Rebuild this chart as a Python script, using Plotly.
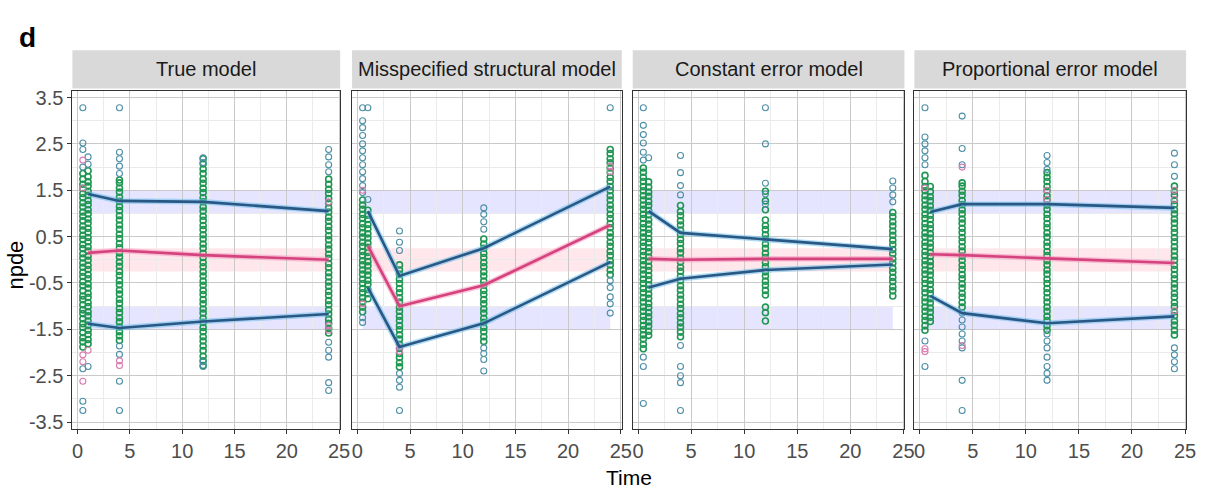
import plotly.graph_objects as go

# ---------------- data ----------------
panel_titles = ["True model", "Misspecified structural model",
                "Constant error model", "Proportional error model"]
obs_times = [0.5, 1, 4, 12, 24]
line_times = [1, 4, 12, 24]
x_ticks = [0, 5, 10, 15, 20, 25]
y_ticks = [-3.5, -2.5, -1.5, -0.5, 0.5, 1.5, 2.5, 3.5]
y_tick_labels = ["-3.5", "-2.5", "-1.5", "-0.5", "0.5", "1.5", "2.5", "3.5"]

# percentile lines (5th, median, 95th)
p1_up = [1.42, 1.27, 1.25, 1.05]
p1_med = [0.15, 0.20, 0.10, 0.00]
p1_lo = [-1.38, -1.47, -1.33, -1.17]
p2_up = [1.05, -0.35, 0.25, 1.58]
p2_med = [0.30, -1.00, -0.55, 0.75]
p2_lo = [-0.60, -1.88, -1.37, -0.05]
p3_up = [1.05, 0.58, 0.44, 0.23]
p3_med = [0.02, 0.00, 0.02, 0.02]
p3_lo = [-0.60, -0.41, -0.22, -0.10]
p4_up = [1.03, 1.20, 1.20, 1.12]
p4_med = [0.12, 0.10, 0.03, -0.07]
p4_lo = [-0.78, -1.15, -1.37, -1.22]

# prediction-interval bands (lower, upper)
band_upper = [1.0, 1.5]
band_median = [-0.25, 0.25]
band_lower = [-1.5, -1.0]
band_x = [0.5, 24.0]

# observations: green (main), teal, pink
p1_g05 = [-1.88,-1.77,-1.68,-1.57,-1.46,-1.38,-1.27,-1.16,-1.08,-0.97,-0.86,-0.78,-0.67,-0.56,-0.47,-0.36,-0.27,-0.16,-0.07,0.04,0.13,0.24,0.33,0.44,0.53,0.64,0.73,0.84,0.94,1.03,1.14,1.23,1.34,1.43,1.54,1.63,1.74,1.86]
p1_g1 = [-1.81,-1.72,-1.61,-1.52,-1.41,-1.32,-1.21,-1.12,-1.01,-0.92,-0.81,-0.72,-0.61,-0.52,-0.41,-0.32,-0.21,-0.12,-0.01,0.08,0.19,0.28,0.39,0.48,0.59,0.68,0.79,0.88,0.99,1.08,1.19,1.28,1.39,1.48,1.59,1.68,1.79,1.92]
p1_g4 = [-1.74,-1.64,-1.55,-1.45,-1.34,-1.25,-1.14,-1.05,-0.94,-0.85,-0.74,-0.65,-0.54,-0.45,-0.34,-0.25,-0.14,-0.05,0.06,0.15,0.26,0.35,0.46,0.55,0.66,0.75,0.86,0.95,1.06,1.15,1.26,1.35,1.46,1.55,1.66,1.72]
p1_g12 = [-2.28,-2.18,-2.08,-1.96,-1.86,-1.75,-1.66,-1.55,-1.46,-1.35,-1.26,-1.15,-1.06,-0.95,-0.86,-0.75,-0.66,-0.55,-0.46,-0.35,-0.26,-0.15,-0.06,0.05,0.14,0.25,0.34,0.45,0.54,0.65,0.74,0.85,0.94,1.05,1.14,1.25,1.34,1.45,1.54,1.65,1.74,1.86,1.96,2.07,2.18]
p1_g24 = [-1.58,-1.48,-1.37,-1.28,-1.17,-1.08,-0.97,-0.88,-0.77,-0.68,-0.57,-0.48,-0.37,-0.28,-0.17,-0.08,0.03,0.12,0.23,0.32,0.43,0.52,0.63,0.72,0.83,0.92,1.03,1.12,1.23,1.32,1.43,1.52,1.63,1.74]
p1_b05 = [3.28, 2.52, 2.38, 2.0, -2.35, -3.05, -3.25]
p1_b1 = [2.22, 2.06, -2.3]
p1_b4 = [3.28, 2.32, 2.18, 2.02, 1.86, -1.86, -2.04, -2.62, -3.25]
p1_b12 = [2.2, 2.1, -2.2, -2.3]
p1_b24 = [2.38, 2.22, 2.05, 1.9, -1.78, -1.95, -2.1, -2.65, -2.82]
p1_r05 = [2.15, 1.55, -2.2, -2.62, -2.05]
p1_r1 = [-1.95]
p1_r4 = [-2.18, -2.28]
p1_r12 = []
p1_r24 = [-1.42, -1.52, 1.25]

p2_g05 = [-1.12,-1.02,-0.91,-0.82,-0.71,-0.62,-0.51,-0.42,-0.31,-0.22,-0.11,-0.02,0.09,0.18,0.29,0.38,0.49,0.58,0.69,0.78,0.89,0.98,1.09,1.18,1.29]
p2_g1 = [-0.84,-0.73,-0.64,-0.53,-0.44,-0.33,-0.24,-0.13,-0.04,0.07,0.16,0.27,0.36,0.47,0.56,0.67,0.76,0.87,0.96,1.07]
p2_g4 = [-2.31,-2.22,-2.11,-2.02,-1.91,-1.82,-1.71,-1.62,-1.51,-1.42,-1.31,-1.22,-1.11,-1.02,-0.91,-0.82,-0.71,-0.62,-0.51,-0.42,-0.31,-0.22,-0.11]
p2_g12 = [-1.76,-1.66,-1.55,-1.46,-1.35,-1.26,-1.15,-1.06,-0.95,-0.86,-0.75,-0.66,-0.55,-0.46,-0.35,-0.26,-0.15,-0.06,0.05,0.14,0.25,0.34,0.45]
p2_g24 = [-0.32,-0.22,-0.11,-0.02,0.09,0.18,0.29,0.38,0.49,0.58,0.69,0.78,0.89,0.98,1.09,1.18,1.29,1.38,1.49,1.58,1.69,1.78,1.89,1.98,2.09,2.18,2.29,2.38]
p2_b05 = [3.28, 3.0, 2.85, 2.68, 2.5, 2.35, 2.2, 2.05, 1.9, 1.75, 1.6, 1.45, -1.25, -1.35]
p2_b1 = [3.28, 1.3]
p2_b4 = [0.62, 0.38, 0.2, -2.45, -2.6, -2.75, -3.25]
p2_b12 = [1.12, 0.98, 0.82, 0.66, -1.9, -2.02, -2.15, -2.4]
p2_b24 = [3.28, -0.45, -0.6, -0.8, -0.95, -1.15]
p2_r05 = [1.5, -0.95]
p2_r1 = []
p2_r4 = [-1.88, -1.98]
p2_r12 = []
p2_r24 = [1.9, 2.02]

p3_g05 = [-1.92,-1.82,-1.71,-1.62,-1.51,-1.42,-1.31,-1.22,-1.11,-1.02,-0.91,-0.82,-0.71,-0.62,-0.51,-0.42,-0.31,-0.22,-0.11,-0.02,0.09,0.18,0.29,0.38,0.49,0.58,0.69,0.78,0.89,0.98,1.09,1.18,1.29,1.38,1.49,1.58,1.69,1.78,1.89,1.98]
p3_g1 = [-1.63,-1.54,-1.43,-1.34,-1.23,-1.14,-1.03,-0.94,-0.83,-0.74,-0.63,-0.54,-0.43,-0.34,-0.23,-0.14,-0.03,0.06,0.17,0.26,0.37,0.46,0.57,0.66,0.77,0.86,0.97,1.06,1.17,1.26,1.37,1.46,1.57,1.68]
p3_g4 = [-1.66,-1.56,-1.45,-1.36,-1.25,-1.16,-1.05,-0.96,-0.85,-0.76,-0.65,-0.56,-0.45,-0.36,-0.25,-0.16,-0.05,0.04,0.15,0.24,0.35,0.44,0.55,0.64,0.75,0.84,0.95,1.04,1.17]
p3_g12 = [-1.32,-1.14,-1.02,-0.76,-0.66,-0.55,-0.46,-0.35,-0.26,-0.15,-0.06,0.05,0.14,0.25,0.34,0.45,0.54,0.65,0.74,0.86,1.08,1.27,1.48]
p3_g24 = [-0.78,-0.67,-0.58,-0.47,-0.38,-0.27,-0.18,-0.07,0.02,0.13,0.22,0.33,0.42,0.53,0.62,0.73,0.82,0.93,1.02]
p3_b05 = [3.28, 2.9, 2.7, 2.52, 2.32, 2.15, -2.1, -2.3, -3.1]
p3_b1 = [2.2]
p3_b4 = [2.25, 1.88, 1.6, 1.4, -1.85, -2.3, -2.5, -2.65, -3.25]
p3_b12 = [3.28, 2.5, 1.65, 1.42, 1.2]
p3_b24 = [1.7, 1.55, 1.4, 1.25]
p3_r05 = []
p3_r1 = []
p3_r4 = []
p3_r12 = []
p3_r24 = []

p4_g05 = [-1.52,-1.42,-1.31,-1.22,-1.11,-1.02,-0.91,-0.82,-0.71,-0.62,-0.51,-0.42,-0.31,-0.22,-0.11,-0.02,0.09,0.18,0.29,0.38,0.49,0.58,0.69,0.78,0.89,0.98,1.09,1.18,1.29,1.38,1.49,1.58,1.69,1.82]
p4_g1 = [-1.33,-1.24,-1.13,-1.04,-0.93,-0.84,-0.73,-0.64,-0.53,-0.44,-0.33,-0.24,-0.13,-0.04,0.07,0.16,0.27,0.36,0.47,0.56,0.67,0.76,0.87,0.96,1.07,1.16,1.27,1.36,1.47,1.58]
p4_g4 = [-1.02,-0.92,-0.81,-0.72,-0.61,-0.52,-0.41,-0.32,-0.21,-0.12,-0.01,0.08,0.19,0.28,0.39,0.48,0.59,0.68,0.79,0.88,0.99,1.08,1.19,1.28,1.39,1.48,1.59,1.66]
p4_g12 = [-1.52,-1.42,-1.31,-1.22,-1.11,-1.02,-0.91,-0.82,-0.71,-0.62,-0.51,-0.42,-0.31,-0.22,-0.11,-0.02,0.09,0.18,0.29,0.38,0.49,0.58,0.69,0.78,0.89,0.98,1.09,1.18,1.29,1.38,1.49,1.58,1.69,1.78,1.88]
p4_g24 = [-1.62,-1.52,-1.41,-1.32,-1.21,-1.12,-1.01,-0.92,-0.81,-0.72,-0.61,-0.52,-0.41,-0.32,-0.21,-0.12,-0.01,0.08,0.19,0.28,0.39,0.48,0.59,0.68,0.79,0.88,0.99,1.08,1.19,1.28,1.39,1.48,1.59]
p4_b05 = [3.28, 2.65, 2.5, 2.35, 2.2, 2.05, -2.3, -1.75]
p4_b1 = []
p4_b4 = [3.1, 2.4, 2.05, -1.15, -1.3, -1.45, -1.6, -1.75, -1.9, -2.6, -3.25]
p4_b12 = [2.25, 2.1, 1.95, -1.6, -1.75, -1.9, -2.1, -2.3, -2.45, -2.6]
p4_b24 = [2.3, 2.05, 1.8, -1.9, -2.05, -2.2, -2.35]
p4_r05 = [-1.92, -1.98, 1.55]
p4_r1 = []
p4_r4 = [2.0, -1.85]
p4_r12 = [1.5, 1.3]
p4_r24 = [1.5, 1.3, -1.1]

# ---------------- assemble ----------------
panels = [
    dict(g=[p1_g05, p1_g1, p1_g4, p1_g12, p1_g24], b=[p1_b05, p1_b1, p1_b4, p1_b12, p1_b24],
         r=[p1_r05, p1_r1, p1_r4, p1_r12, p1_r24], up=p1_up, med=p1_med, lo=p1_lo),
    dict(g=[p2_g05, p2_g1, p2_g4, p2_g12, p2_g24], b=[p2_b05, p2_b1, p2_b4, p2_b12, p2_b24],
         r=[p2_r05, p2_r1, p2_r4, p2_r12, p2_r24], up=p2_up, med=p2_med, lo=p2_lo),
    dict(g=[p3_g05, p3_g1, p3_g4, p3_g12, p3_g24], b=[p3_b05, p3_b1, p3_b4, p3_b12, p3_b24],
         r=[p3_r05, p3_r1, p3_r4, p3_r12, p3_r24], up=p3_up, med=p3_med, lo=p3_lo),
    dict(g=[p4_g05, p4_g1, p4_g4, p4_g12, p4_g24], b=[p4_b05, p4_b1, p4_b4, p4_b12, p4_b24],
         r=[p4_r05, p4_r1, p4_r4, p4_r12, p4_r24], up=p4_up, med=p4_med, lo=p4_lo),
]

W, H = 1209, 495
px_domains = [(73, 343), (355, 627), (638, 912), (922, 1196)]
y_dom = [(H - 432) / H, (H - 88) / H]
strip_y = [(H - 86) / H, (H - 47) / H]

GREEN = "#1f9652"
TEAL = "#4f90a6"
PINK = "#d97bb0"
BLUE_LINE = "#2a5884"
PINK_LINE = "#d4437e"
FONT = "Liberation Sans, Arial, sans-serif"

fig = go.Figure()
shapes = []
annotations = []

def expand(times, lists):
    xs, ys = [], []
    for t, vals in zip(times, lists):
        xs += [t] * len(vals)
        ys += list(vals)
    return xs, ys

for i, p in enumerate(panels):
    sfx = "" if i == 0 else str(i + 1)
    xa, ya = "x" + sfx, "y" + sfx
    for lists, col, lw in ((p["g"], GREEN, 1.6), (p["b"], TEAL, 1.1), (p["r"], PINK, 1.1)):
        xs, ys = expand(obs_times, lists)
        fig.add_trace(go.Scatter(x=xs, y=ys, mode="markers", xaxis=xa, yaxis=ya,
                                 marker=dict(symbol="circle-open", size=6, color=col,
                                             line=dict(width=lw, color=col)),
                                 showlegend=False, hoverinfo="skip"))
    for key, col, halo in (("up", BLUE_LINE, "rgba(110,190,235,0.55)"),
                           ("lo", BLUE_LINE, "rgba(110,190,235,0.55)"),
                           ("med", PINK_LINE, "rgba(245,150,190,0.55)")):
        fig.add_trace(go.Scatter(x=line_times, y=p[key], mode="lines", xaxis=xa, yaxis=ya,
                                 line=dict(color=halo, width=5.5), showlegend=False, hoverinfo="skip"))
        fig.add_trace(go.Scatter(x=line_times, y=p[key], mode="lines", xaxis=xa, yaxis=ya,
                                 line=dict(color=col, width=2.6), showlegend=False, hoverinfo="skip"))
    # bands
    for band, colr in ((band_upper, "rgba(150,150,255,0.25)"),
                       (band_median, "rgba(255,160,180,0.25)"),
                       (band_lower, "rgba(150,150,255,0.25)")):
        shapes.append(dict(type="rect", xref=xa, yref=ya, x0=band_x[0], x1=band_x[1],
                           y0=band[0], y1=band[1], fillcolor=colr, line=dict(width=0),
                           layer="below"))
    d0, d1 = px_domains[i][0] / W, px_domains[i][1] / W
    # strip
    shapes.append(dict(type="rect", xref="paper", yref="paper", x0=d0, x1=d1,
                       y0=strip_y[0], y1=strip_y[1], fillcolor="#d9d9d9",
                       line=dict(width=0)))
    annotations.append(dict(text=panel_titles[i], xref="paper", yref="paper",
                            x=(d0 + d1) / 2, y=(strip_y[0] + strip_y[1]) / 2,
                            showarrow=False, xanchor="center", yanchor="middle",
                            font=dict(family=FONT, size=20, color="#1a1a1a")))
    xaxis = dict(domain=[d0, d1], anchor=ya, range=[-0.5, 25.1],
                 tickvals=x_ticks, ticktext=[str(v) for v in x_ticks],
                 ticks="outside", ticklen=4, tickcolor="#333333",
                 tickfont=dict(family=FONT, size=20, color="#4d4d4d"),
                 showgrid=True, gridcolor="#c9c9c9", gridwidth=1,
                 minor=dict(dtick=2.5, tick0=0, showgrid=True, gridcolor="#ebebeb", ticks=""),
                 showline=True, mirror=True, linecolor="#333333", linewidth=1,
                 zeroline=False, fixedrange=True)
    yaxis = dict(domain=y_dom, anchor=xa, range=[-3.65, 3.65],
                 tickvals=y_ticks, ticktext=y_tick_labels,
                 showgrid=True, gridcolor="#c9c9c9", gridwidth=1,
                 minor=dict(dtick=1, tick0=0, showgrid=True, gridcolor="#ebebeb", ticks=""),
                 showline=True, mirror=True, linecolor="#333333", linewidth=1,
                 zeroline=False, fixedrange=True)
    if i == 0:
        yaxis.update(ticks="outside", ticklen=4, tickcolor="#333333",
                     tickfont=dict(family=FONT, size=20, color="#4d4d4d"),
                     showticklabels=True)
    else:
        yaxis.update(ticks="", showticklabels=False)
    fig.layout["xaxis" + sfx] = xaxis
    fig.layout["yaxis" + sfx] = yaxis

annotations += [
    dict(text="Time", xref="paper", yref="paper", x=634 / W, y=(H - 481) / H,
         showarrow=False, xanchor="center", yanchor="middle",
         font=dict(family=FONT, size=21, color="#000000")),
    dict(text="npde", xref="paper", yref="paper", x=16 / W, y=(H - 265) / H,
         showarrow=False, xanchor="center", yanchor="middle", textangle=-90,
         font=dict(family=FONT, size=22, color="#000000")),
    dict(text="<b>d</b>", xref="paper", yref="paper", x=28 / W, y=(H - 34) / H,
         showarrow=False, xanchor="center", yanchor="middle",
         font=dict(family=FONT, size=28, color="#000000")),
]

fig.update_layout(width=W, height=H, margin=dict(l=0, r=0, t=0, b=0),
                  paper_bgcolor="white", plot_bgcolor="white",
                  shapes=shapes, annotations=annotations, showlegend=False)

fig.write_html("out.html")
